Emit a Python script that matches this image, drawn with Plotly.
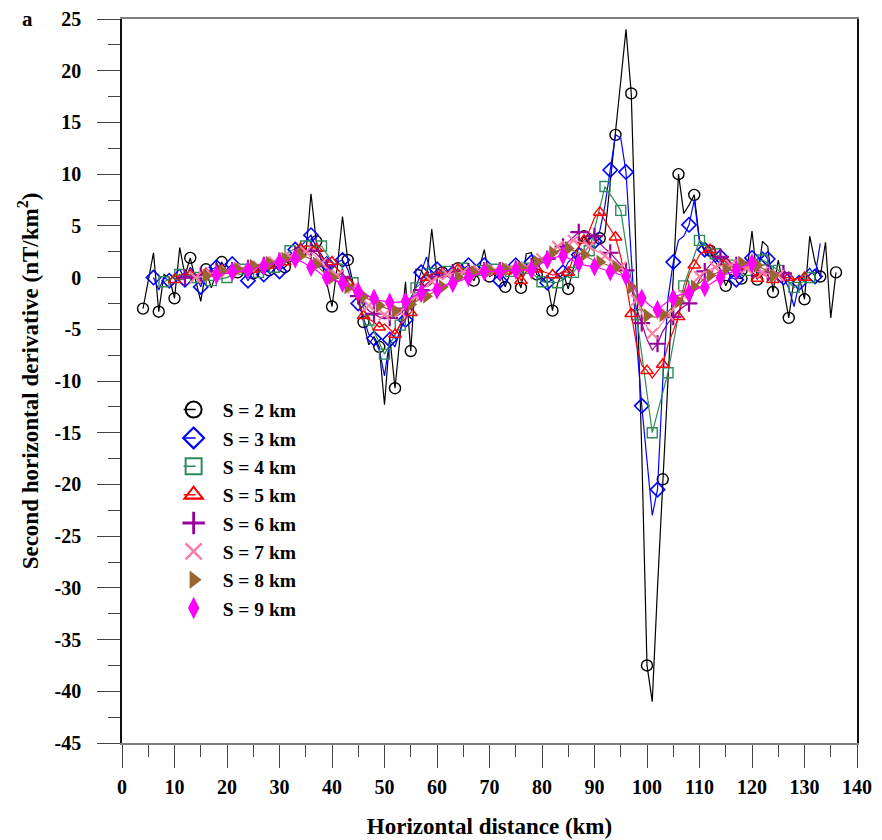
import plotly.graph_objects as go

# Second horizontal derivative profiles (nT/km^2) for spacings S = 2 ... 9 km.
# Each profile is sampled on a 1 km grid (S = 4 km on a 3 km grid).

dist_s2 = list(range(4, 137))
deriv_s2 = [
    -3.0, -0.3, 2.4, -3.3, 0.3, 0.0, -2.0, 2.9, 0.2, 1.9,
    -0.2, -2.3, 0.8, -1.0, 0.5, 1.5, 0.6, 0.2, 0.5, 0.8,
    0.3, 0.4, 0.9, 0.5, 0.7, 1.3, 0.8, 1.0, 1.5, 1.9,
    2.5, 2.2, 8.1, 3.5, 1.5, -0.5, -2.8, 1.0, 5.9, 1.7,
    -0.5, -1.8, -4.3, -6.5, -5.7, -6.7, -12.3, -5.7, -10.7, -5.5,
    -0.4, -7.1, 0.8, 0.7, -0.3, 4.7, 0.2, 0.5, 0.6, 0.3,
    0.9, 0.4, 0.7, -0.3, 0.8, 2.7, 0.1, 0.4, 0.5, -0.9,
    0.6, 0.3, -1.0, 2.3, 2.4, 0.3, 0.0, -0.5, -3.2, -0.5,
    0.5, -1.1, 1.0, 3.0, 4.0, 3.2, 3.4, 3.8, 4.3, 9.0,
    13.8, 19.0, 24.0, 17.8, 0.5, -16.8, -37.5, -41.0, -30.0, -19.5,
    -9.7, 0.1, 10.0, 6.2, 7.0, 8.0, 3.6, 2.5, 2.6, 1.5,
    0.8, -0.8, 0.3, 0.0, -0.1, 0.5, 4.5, -0.2, 3.5, 3.0,
    -1.4, 1.7, -1.0, -3.9, -0.2, 0.0, -2.1, 4.0, 1.5, 0.1,
    3.4, -3.9, 0.5,
]

dist_s3 = list(range(6, 134))
deriv_s3 = [
    0.0, -1.2, 0.0, -0.3, 0.3, 0.8, -0.2, 1.0, 0.3, -0.9,
    0.5, 0.8, 1.0, 0.7, 0.8, 1.3, 0.9, 0.6, -0.3, 0.6,
    0.8, 0.3, 0.9, 1.2, 0.6, 1.4, 1.8, 2.7, 3.0, 3.6,
    4.1, 2.9, 2.2, 1.3, 0.8, 1.5, 1.7, 0.8, -0.8, -2.5,
    -4.0, -5.5, -5.9, -7.0, -9.5, -6.0, -6.7, -5.0, -4.1, -2.0,
    -0.9, 0.5, 2.0, 0.2, 0.8, 0.7, 0.6, 0.4, 0.6, 0.8,
    1.2, 0.3, 0.7, 1.2, 0.6, 0.3, -0.3, 0.5, 1.0, 1.2,
    0.2, 1.2, 1.5, 0.8, -0.3, -0.5, -0.2, 0.3, 0.5, 1.5,
    2.0, 2.2, 2.5, 3.0, 3.5, 4.5, 7.0, 10.4, 13.8, 13.5,
    10.2, 2.0, -6.0, -12.4, -18.0, -23.0, -20.5, -10.0, -2.0, 1.5,
    3.6, 4.0, 5.1, 7.5, 3.5, 2.7, 2.0, 1.5, 2.0, 1.0,
    0.0, -0.2, 0.5, 1.5, 1.9, 1.0, 2.5, 1.8, 0.5, 0.2,
    0.0, -1.0, -2.8, -0.5, 0.3, 0.9, 0.1, 3.3,
]

dist_s4 = list(range(8, 132, 3))
deriv_s4 = [
    -0.4, 0.3, 0.0, -0.3, 0.0, 0.8, 0.5, 1.0, 2.6, 3.05,
    3.05, 0.8, -0.5, -4.1, -7.4, -4.6, -1.0, 0.4, 0.6, 0.9,
    0.7, 0.8, 0.6, 0.9, -0.4, -0.5, 0.5, 2.6, 8.8, 6.5,
    -3.6, -15.0, -9.2, -0.8, 3.6, 2.3, 1.2, 0.7, 1.7, 0.7,
    -0.95, 0.0,
]

dist_s5 = list(range(10, 131))
deriv_s5 = [
    -0.2, 0.2, 0.4, 0.25, 0.3, 0.1, 0.4, 0.6, 0.5, 0.7,
    0.6, 0.6, 0.8, 0.7, 0.9, 0.8, 0.7, 1.0, 1.2, 1.1,
    1.3, 1.5, 1.9, 2.4, 2.8, 3.1, 3.0, 2.8, 2.0, 1.5,
    1.5, 0.8, 0.3, -0.4, -1.2, -2.4, -3.7, -4.0, -4.3, -4.8,
    -4.5, -5.0, -5.5, -4.5, -4.0, -3.4, -2.0, -0.8, 0.0, 0.3,
    0.5, 0.4, 0.6, 0.6, 0.8, 0.5, 0.7, 0.6, 0.8, 0.9,
    0.6, 0.7, 0.8, 0.6, 0.9, 1.0, -0.3, 0.6, 0.9, 0.8,
    0.6, 0.4, 0.25, 0.3, 0.6, 0.5, 2.0, 3.0, 3.6, 4.5,
    5.8, 6.3, 5.5, 4.6, 3.9, 2.0, -0.5, -3.5, -6.5, -8.5,
    -9.0, -9.7, -9.0, -8.4, -6.5, -5.2, -3.8, -1.5, 0.3, 1.2,
    2.2, 2.6, 2.7, 2.0, 1.8, 1.5, 1.2, 1.0, 1.1, 1.0,
    0.6, -0.1, 0.3, 0.1, -0.2, 0.3, 0.0, 0.0, -0.2, 0.0,
    0.0,
]

dist_s6 = list(range(12, 127))
deriv_s6 = [
    0.0, 0.1, 0.3, 0.2, 0.3, 0.5, 0.6, 0.7, 0.6, 0.7,
    0.8, 0.9, 0.9, 1.0, 1.1, 1.2, 1.3, 1.4, 1.6, 1.8,
    2.0, 2.2, 2.4, 2.5, 2.6, 2.3, 1.8, 1.1, 0.6, 0.3,
    0.0, -0.4, -1.0, -1.8, -2.6, -3.2, -3.5, -3.8, -4.0, -3.9,
    -3.8, -3.5, -3.0, -2.5, -1.9, -1.2, -0.6, -0.2, 0.1, 0.3,
    0.4, 0.5, 0.55, 0.6, 0.6, 0.65, 0.7, 0.7, 0.75, 0.7,
    0.7, 0.75, 0.8, 0.85, 0.9, 1.0, 1.1, 1.3, 1.5, 1.8,
    2.1, 2.5, 3.0, 3.5, 4.0, 4.4, 4.5, 4.3, 4.0, 3.3,
    2.8, 2.4, 1.8, 1.2, 0.7, -1.0, -3.0, -4.4, -6.0, -7.0,
    -6.4, -5.2, -4.4, -3.8, -3.2, -2.8, -2.5, -1.2, -0.2, 0.6,
    1.2, 1.8, 2.0, 1.8, 1.4, 1.2, 1.0, 0.9, 0.8, 0.7,
    0.6, 0.5, 0.4, 0.3, 0.4,
]

dist_s7 = list(range(14, 126))
deriv_s7 = [
    0.0, 0.1, 0.2, 0.3, 0.45, 0.55, 0.6, 0.7, 0.75, 0.8,
    0.9, 1.0, 1.1, 1.2, 1.35, 1.5, 1.6, 1.8, 2.0, 2.2,
    2.4, 2.5, 2.4, 2.0, 1.4, 0.9, 0.5, 0.2, -0.1, -0.5,
    -1.0, -1.6, -2.2, -2.7, -3.1, -3.4, -3.6, -3.7, -3.6, -3.3,
    -2.9, -2.4, -1.8, -1.3, -0.8, -0.4, -0.1, 0.1, 0.3, 0.4,
    0.5, 0.55, 0.6, 0.6, 0.65, 0.7, 0.7, 0.7, 0.75, 0.8,
    0.85, 0.9, 0.95, 1.0, 1.2, 1.5, 1.8, 2.2, 2.6, 3.0,
    3.3, 3.5, 3.6, 3.5, 3.3, 3.0, 2.7, 2.4, 2.1, 1.8,
    1.5, 1.0, 0.3, -0.8, -2.2, -3.6, -4.8, -5.4, -5.0, -4.3,
    -3.6, -3.0, -2.4, -1.7, -1.0, -0.4, 0.1, 0.5, 0.8, 1.0,
    1.1, 1.2, 1.2, 1.1, 1.0, 0.9, 0.8, 0.6, 0.5, 0.4,
    0.3, 0.2,
]

dist_s8 = list(range(16, 125))
deriv_s8 = [
    0.15, 0.3, 0.45, 0.6, 0.65, 0.7, 0.8, 0.9, 1.0, 1.1,
    1.2, 1.3, 1.4, 1.5, 1.6, 1.8, 1.9, 2.0, 2.1, 2.0,
    1.8, 1.3, 0.7, 0.3, 0.0, -0.3, -0.6, -0.9, -1.2, -1.5,
    -1.8, -2.1, -2.4, -2.7, -2.9, -3.1, -3.2, -3.0, -2.8, -2.6,
    -2.3, -2.0, -1.8, -1.5, -1.2, -0.9, -0.6, -0.3, 0.0, 0.3,
    0.4, 0.5, 0.6, 0.65, 0.7, 0.7, 0.75, 0.8, 0.8, 0.85,
    0.9, 1.0, 1.2, 1.5, 1.8, 2.1, 2.4, 2.6, 2.75, 2.8,
    2.6, 2.4, 2.2, 1.9, 1.6, 1.5, 1.3, 1.1, 1.0, 0.5,
    -0.2, -0.9, -2.0, -3.0, -3.7, -3.8, -3.8, -3.6, -3.3, -2.8,
    -2.3, -1.7, -1.2, -0.9, -0.5, -0.1, 0.2, 0.4, 0.57, 0.8,
    1.0, 1.2, 1.4, 1.5, 1.4, 1.2, 0.9, 0.6, 0.2,
]

dist_s9 = list(range(18, 121))
deriv_s9 = [
    0.25, 0.35, 0.45, 0.57, 0.6, 0.65, 0.73, 0.85, 1.0, 1.1,
    1.25, 1.4, 1.5, 1.6, 1.7, 1.8, 1.6, 1.3, 1.0, 0.7,
    0.3, 0.0, -0.2, -0.4, -0.55, -0.8, -1.1, -1.36, -1.6, -1.8,
    -2.0, -2.2, -2.3, -2.4, -2.4, -2.35, -2.3, -2.0, -1.7, -1.5,
    -1.35, -1.2, -1.2, -0.9, -0.7, -0.55, -0.4, -0.2, 0.0, 0.2,
    0.4, 0.57, 0.6, 0.6, 0.57, 0.6, 0.7, 0.73, 0.75, 0.75,
    0.73, 1.0, 1.4, 1.7, 1.9, 2.0, 2.1, 1.9, 1.6, 1.4,
    1.2, 1.1, 1.05, 0.9, 0.75, 0.57, 0.4, 0.25, 0.1, -0.6,
    -1.4, -2.0, -2.5, -2.9, -3.1, -2.7, -2.3, -2.0, -1.7, -1.6,
    -1.5, -1.2, -1.0, -0.95, -0.6, -0.3, 0.0, 0.3, 0.5, 0.7,
    1.0, 1.2, 1.4,
]

series_names = ["S = 2 km", "S = 3 km", "S = 4 km", "S = 5 km",
                "S = 6 km", "S = 7 km", "S = 8 km", "S = 9 km"]
series_dist = [dist_s2, dist_s3, dist_s4, dist_s5, dist_s6, dist_s7, dist_s8, dist_s9]
series_vals = [deriv_s2, deriv_s3, deriv_s4, deriv_s5, deriv_s6, deriv_s7, deriv_s8, deriv_s9]

x_ticks = list(range(0, 141, 10))
y_ticks = list(range(-45, 26, 5))
y_tick_text = [str(v) for v in y_ticks]

# styling per series: colour, symbol, marker size, marker stride, outline width
styles = [
    dict(color="#000000", symbol="circle-open", size=11, step=3, lw=1.4, legend_line=True),
    dict(color="#0000FF", symbol="diamond-open", size=11, step=3, lw=1.6, legend_line=True),
    dict(color="#2E8B57", symbol="square-open", size=10, step=1, lw=1.4, legend_line=True),
    dict(color="#FF0000", symbol="triangle-up-open", size=11, step=3, lw=1.5, legend_line=True),
    dict(color="#990099", symbol="cross-thin-open", size=12, step=3, lw=2.2, legend_line=False),
    dict(color="#F77FA6", symbol="x-thin-open", size=11, step=3, lw=2.0, legend_line=False),
    dict(color="#996633", symbol="triangle-right", size=13, step=3, lw=0, legend_line=False),
    dict(color="#FF00FF", symbol="diamond-tall", size=14, step=3, lw=0, legend_line=False),
]

font_family = "Liberation Serif, Times New Roman, serif"

fig = go.Figure()

for i, (name, xs, ys, st) in enumerate(zip(series_names, series_dist, series_vals, styles)):
    fig.add_trace(go.Scatter(
        x=xs, y=ys, mode="lines",
        line=dict(color=st["color"], width=1.2),
        showlegend=False, hoverinfo="skip",
    ))
    fig.add_trace(go.Scatter(
        x=xs[::st["step"]], y=ys[::st["step"]], mode="markers",
        marker=dict(symbol=st["symbol"], size=st["size"], color=st["color"],
                    line=dict(width=st["lw"], color=st["color"])),
        showlegend=False, name=name,
    ))
    # legend entry: a short stroke inside the open symbol only
    fig.add_trace(go.Scatter(
        x=[None], y=[None],
        mode="lines+markers" if st["legend_line"] else "markers",
        line=dict(color=st["color"], width=1.5, dash="0px,14px,12px,300px"),
        marker=dict(symbol=st["symbol"], size=16, color=st["color"],
                    line=dict(width=(st["lw"] + 0.6) if st["lw"] else 0, color=st["color"])),
        name=name, legendgroup=f"g{i}", showlegend=True,
    ))

fig.update_layout(
    width=882, height=840,
    margin=dict(l=122, r=25, t=19, b=97, autoexpand=False),
    plot_bgcolor="white", paper_bgcolor="white",
    font=dict(family=font_family, size=17, color="black"),
    showlegend=True,
    legend=dict(
        x=0.058, y=0.487, xanchor="left", yanchor="top",
        bgcolor="rgba(0,0,0,0)", borderwidth=0,
        font=dict(family=font_family, size=19.5, color="black", weight="bold"),
        tracegroupgap=0, itemwidth=48,
    ),
    annotations=[dict(
        text="<b>a</b>", xref="paper", yref="paper", x=-0.128, y=1.0,
        xanchor="center", yanchor="middle", showarrow=False,
        font=dict(family=font_family, size=21, color="black"),
    )],
)

fig.update_xaxes(
    range=[0, 140], tickmode="array", tickvals=x_ticks, automargin=False,
    ticks="outside", ticklen=23, tickwidth=1, tickcolor="#444",
    minor=dict(tickmode="linear", tick0=0, dtick=5, ticks="outside", ticklen=12, tickcolor="#444"),
    showgrid=False, zeroline=False,
    showline=True, linecolor="#808080", linewidth=1.5, mirror=True,
    tickfont=dict(family=font_family, size=20, color="black", weight="bold"),
    ticklabelstandoff=2,
    title=dict(text="<b>Horizontal distance (km)</b>",
               font=dict(family=font_family, size=23, color="black"), standoff=21),
)

fig.update_yaxes(
    range=[-45, 25], tickmode="array", tickvals=y_ticks, ticktext=y_tick_text, automargin=False,
    ticks="outside", ticklen=23, tickwidth=1, tickcolor="#444",
    minor=dict(tickmode="linear", tick0=0, dtick=2.5, ticks="outside", ticklen=12, tickcolor="#444"),
    showgrid=False, zeroline=False,
    showline=True, linecolor="#111", linewidth=1.5, mirror=True,
    tickfont=dict(family=font_family, size=20, color="black", weight="bold"),
    ticklabelstandoff=12,
    title=dict(text="<b>Second horizontal derivative (nT/km<sup>2</sup>)</b>",
               font=dict(family=font_family, size=23, color="black"), standoff=10),
)

fig.write_html("out.html")
